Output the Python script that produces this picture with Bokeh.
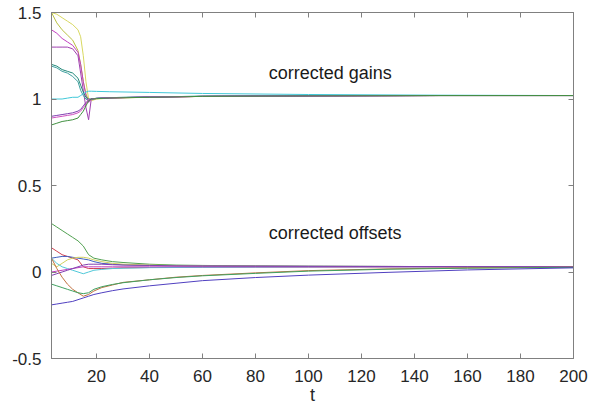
from bokeh.plotting import figure
from bokeh.models import LinearAxis, Range1d, FixedTicker
from bokeh.core.properties import value
from bokeh.embed import file_html
from bokeh.resources import INLINE

# ---------------- data ----------------
T_G = [3, 5, 7, 9, 11, 13, 14, 15, 16, 17, 18, 20, 25, 40, 60, 100, 150, 200]

gain_yellow  = [1.50, 1.49, 1.47, 1.45, 1.43, 1.40, 1.36, 1.25, 1.10, 1.00, 0.99, 1.000, 1.005, 1.010, 1.015, 1.018, 1.020, 1.020]
gain_yellow2 = [1.50, 1.44, 1.40, 1.37, 1.34, 1.28, 1.20, 1.10, 1.03, 0.99, 1.00, 1.002, 1.006, 1.010, 1.015, 1.018, 1.020, 1.020]
gain_magenta = [1.40, 1.38, 1.35, 1.33, 1.31, 1.27, 1.20, 1.10, 1.02, 0.98, 1.00, 1.003, 1.006, 1.011, 1.015, 1.018, 1.020, 1.020]
gain_purple  = [1.30, 1.30, 1.30, 1.30, 1.29, 1.25, 1.15, 1.05, 0.95, 0.88, 1.00, 1.004, 1.007, 1.011, 1.015, 1.018, 1.020, 1.020]
gain_teal    = [1.20, 1.19, 1.17, 1.16, 1.15, 1.12, 1.08, 1.04, 1.01, 1.00, 1.00, 1.004, 1.008, 1.012, 1.016, 1.019, 1.020, 1.020]
gain_green2  = [1.19, 1.18, 1.16, 1.15, 1.13, 1.10, 1.05, 1.02, 1.00, 0.99, 1.00, 1.004, 1.008, 1.012, 1.016, 1.019, 1.020, 1.020]
gain_cyan    = [1.00, 1.00, 1.00, 1.005, 1.01, 1.01, 1.02, 1.03, 1.04, 1.045, 1.045, 1.044, 1.042, 1.038, 1.032, 1.026, 1.022, 1.020]
gain_violet  = [0.90, 0.905, 0.91, 0.915, 0.92, 0.93, 0.94, 0.96, 0.98, 0.99, 1.00, 1.003, 1.007, 1.011, 1.015, 1.018, 1.020, 1.020]
gain_pink    = [0.89, 0.895, 0.90, 0.905, 0.91, 0.92, 0.93, 0.95, 0.97, 1.00, 1.00, 1.003, 1.007, 1.011, 1.015, 1.018, 1.020, 1.020]
gain_green   = [0.85, 0.86, 0.87, 0.875, 0.88, 0.89, 0.91, 0.93, 0.96, 0.99, 1.00, 1.002, 1.006, 1.010, 1.015, 1.018, 1.020, 1.020]

T_O = [3, 5, 7, 9, 11, 13, 15, 17, 19, 22, 26, 30, 40, 50, 60, 80, 100, 130, 160, 200]

off_green   = [0.28, 0.26, 0.24, 0.22, 0.20, 0.18, 0.15, 0.10, 0.08, 0.07, 0.06, 0.055, 0.045, 0.040, 0.038, 0.035, 0.033, 0.032, 0.031, 0.030]
off_red     = [0.14, 0.12, 0.10, 0.09, 0.08, 0.07, 0.03, 0.02, 0.02, 0.02, 0.022, 0.024, 0.026, 0.027, 0.028, 0.029, 0.029, 0.030, 0.030, 0.030]
off_blue    = [0.08, 0.085, 0.09, 0.09, 0.085, 0.08, 0.075, 0.07, 0.06, 0.05, 0.045, 0.042, 0.038, 0.036, 0.035, 0.034, 0.033, 0.032, 0.031, 0.030]
off_yellow  = [0.05, 0.03, 0.05, 0.07, 0.08, 0.085, 0.085, 0.08, 0.07, 0.06, 0.05, 0.045, 0.040, 0.037, 0.035, 0.034, 0.033, 0.032, 0.031, 0.030]
off_cyan    = [0.08, 0.05, 0.03, 0.02, 0.01, 0.00, -0.01, 0.00, 0.01, 0.015, 0.02, 0.022, 0.025, 0.026, 0.027, 0.028, 0.029, 0.030, 0.030, 0.030]
off_magenta = [0.00, 0.005, 0.01, 0.015, 0.02, 0.025, 0.03, 0.03, 0.03, 0.03, 0.03, 0.03, 0.03, 0.03, 0.03, 0.03, 0.03, 0.03, 0.03, 0.030]
off_purple  = [-0.02, -0.01, 0.00, 0.01, 0.02, 0.03, 0.04, 0.045, 0.045, 0.045, 0.042, 0.040, 0.038, 0.036, 0.035, 0.034, 0.033, 0.032, 0.031, 0.030]
off_brown   = [0.08, 0.02, -0.03, -0.07, -0.10, -0.12, -0.14, -0.13, -0.11, -0.09, -0.075, -0.06, -0.045, -0.03, -0.02, -0.005, 0.008, 0.018, 0.024, 0.028]
off_green2  = [-0.07, -0.08, -0.09, -0.10, -0.11, -0.12, -0.125, -0.12, -0.10, -0.085, -0.072, -0.062, -0.045, -0.032, -0.022, -0.008, 0.005, 0.016, 0.022, 0.027]
off_indigo  = [-0.19, -0.185, -0.18, -0.175, -0.17, -0.16, -0.15, -0.14, -0.13, -0.12, -0.108, -0.098, -0.08, -0.065, -0.05, -0.032, -0.018, -0.002, 0.012, 0.024]

gains = [
    (gain_yellow, "#d8d860"), (gain_yellow2, "#b8c040"), (gain_magenta, "#c040c0"),
    (gain_purple, "#a040b0"), (gain_teal, "#208878"), (gain_green2, "#40a0a0"),
    (gain_cyan, "#40c8d8"), (gain_violet, "#8040b0"), (gain_pink, "#d050c0"),
    (gain_green, "#409040"),
]
offsets = [
    (off_green, "#50a050"), (off_red, "#d04050"), (off_blue, "#4060c0"),
    (off_yellow, "#d0d060"), (off_cyan, "#50c8d8"), (off_magenta, "#c040c0"),
    (off_purple, "#8040b0"), (off_brown, "#c07040"), (off_green2, "#40a060"),
    (off_indigo, "#5040c0"),
]

X_TICKS = [20, 40, 60, 80, 100, 120, 140, 160, 180, 200]
Y_TICKS = [-0.5, 0, 0.5, 1, 1.5]

# ---------------- figure ----------------
FONT = "Liberation Sans"
p = figure(width=591, height=408, output_backend="svg", toolbar_location=None,
           x_range=Range1d(3, 200), y_range=Range1d(-0.5, 1.5),
           min_border_left=51, min_border_right=18, min_border_top=12, min_border_bottom=50)
p.grid.visible = False
p.outline_line_color = "#808080"
p.background_fill_color = "white"
p.border_fill_color = "white"

for ys, c in gains:
    p.line(T_G, ys, line_color=c, line_width=1)
for ys, c in offsets:
    p.line(T_O, ys, line_color=c, line_width=1)

p.text(x=[85], y=[1.15], text=["corrected gains"], text_font=value(FONT),
       text_font_size="18px", text_baseline="middle", text_align="left", text_color="#1a1a1a")
p.text(x=[85], y=[0.225], text=["corrected offsets"], text_font=value(FONT),
       text_font_size="18px", text_baseline="middle", text_align="left", text_color="#1a1a1a")

def style(ax):
    ax.axis_line_color = "#808080"
    ax.major_tick_line_color = "#808080"
    ax.major_tick_in = 5
    ax.major_tick_out = 0
    ax.minor_tick_line_color = None
    ax.major_label_text_font = FONT
    ax.major_label_text_font_size = "17px"
    ax.major_label_text_color = "#262626"

p.xaxis.ticker = FixedTicker(ticks=X_TICKS)
p.yaxis.ticker = FixedTicker(ticks=Y_TICKS)
p.yaxis.major_label_overrides = {-0.5: "-0.5", 0: "0", 0.5: "0.5", 1: "1", 1.5: "1.5"}
style(p.xaxis[0])
style(p.yaxis[0])
p.xaxis.major_label_standoff = 11
p.yaxis.major_label_standoff = 10
p.xaxis.axis_label = "t"
p.xaxis.axis_label_text_font = FONT
p.xaxis.axis_label_text_font_size = "18px"
p.xaxis.axis_label_text_font_style = "normal"
p.xaxis.axis_label_text_color = "#262626"
p.xaxis.axis_label_standoff = 0

top = LinearAxis(ticker=FixedTicker(ticks=X_TICKS))
style(top)
top.major_label_overrides = {t: "" for t in X_TICKS}
top.major_label_standoff = 0
p.add_layout(top, "above")
right = LinearAxis(ticker=FixedTicker(ticks=Y_TICKS))
style(right)
right.major_label_overrides = {t: "" for t in Y_TICKS}
right.major_label_standoff = 0
p.add_layout(right, "right")

open("out.html", "w").write(file_html(p, INLINE))
